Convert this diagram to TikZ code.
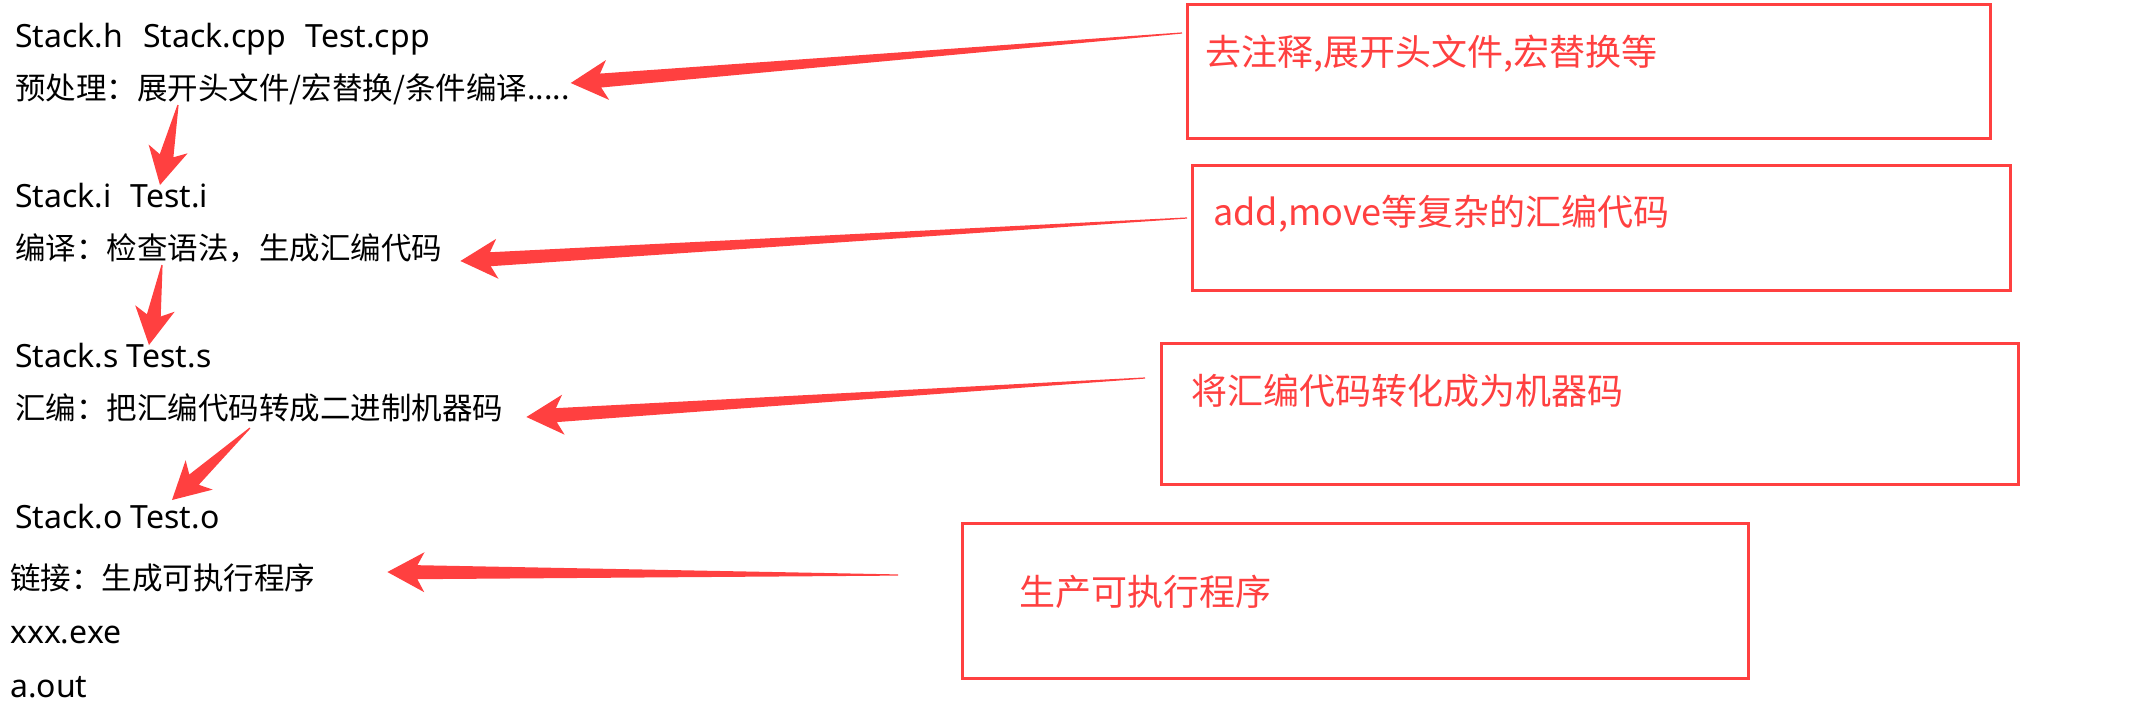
\documentclass[tikz,border=0pt]{standalone}
\usepackage{fontspec}
\setmainfont{Noto Sans CJK SC}
\newfontfamily\latinfont{Noto Sans}
\usetikzlibrary{calc}
\definecolor{markred}{RGB}{255,64,64}

% tapered red arrow: #1 tail, #2 tip
\newcommand{\redarrow}[2]{%
  \fill[markred] (#2)
    -- ($(#2)!37pt!(#1)!20pt!90:(#1)$)
    -- ($(#2)!30pt!(#1)!7pt!90:(#1)$)
    -- ($(#1)!0.6pt!-90:(#2)$)
    -- ($(#1)!0.6pt!90:(#2)$)
    -- ($(#2)!30pt!(#1)!7pt!-90:(#1)$)
    -- ($(#2)!37pt!(#1)!20pt!-90:(#1)$)
    -- cycle;}

\begin{document}
\begin{tikzpicture}[x=1pt, y=-1pt,
    line/.style = {anchor=base west, inner sep=0pt, font=\fontsize{30.5}{36}\selectfont},
    file/.style = {line, font=\fontsize{32}{38}\selectfont\latinfont},
    note/.style = {anchor=base west, inner sep=0pt, text=markred, font=\fontsize{36}{42}\selectfont},
    box/.style = {draw=markred, line width=2.5pt, anchor=north west, inner sep=0pt}
]
    \useasboundingbox (0,0) rectangle (2143,724);

    % left column
    \node[file] (l1) at (15, 47) {Stack.h\hspace{20pt}Stack.cpp\hspace{20pt}Test.cpp};
    \node[line] (l2) at (15, 99) {预处理：展开头文件/宏替换/条件编译.....};
    \node[file] (l3) at (15, 207) {Stack.i\hspace{19pt}Test.i};
    \node[line] (l4) at (15, 259) {编译：检查语法，生成汇编代码};
    \node[file] (l5) at (15, 367) {Stack.s Test.s};
    \node[line] (l6) at (15, 419) {汇编：把汇编代码转成二进制机器码};
    \node[file] (l7) at (15, 528) {Stack.o Test.o};
    \node[line] (l8) at (10, 589) {链接：生成可执行程序};
    \node[file] (l9) at (10, 643) {xxx.exe};
    \node[file] (l10) at (10, 697) {a.out};

    % boxes on the right
    \node[box, minimum width=803pt, minimum height=134pt] (box1) at (1186, 3) {};
    \node[box, minimum width=818pt, minimum height=125pt] (box2) at (1191, 164) {};
    \node[box, minimum width=857pt, minimum height=141pt] (box3) at (1160, 342) {};
    \node[box, minimum width=786pt, minimum height=155pt] (box4) at (961, 522) {};

    \node[note] (n1) at (1205, 65) {去注释,展开头文件,宏替换等};
    \node[note] (n2) at (1213, 225) {add,move等复杂的汇编代码};
    \node[note] (n3) at (1191, 404) {将汇编代码转化成为机器码};
    \node[note] (n4) at (1019, 605) {生产可执行程序};

    % arrow ends
    \coordinate (a1) at ($(box1.north west)+(-4, 30)$);
    \coordinate (a2) at ($(box2.north west)+(-4, 54)$);
    \coordinate (a3) at ($(box3.north west)+(-15, 36)$);
    \coordinate (a4) at ($(box4.north west)+(-63, 53)$);
    \coordinate (b1) at ($(l2.base east)+(1, -16)$);
    \coordinate (b2) at ($(l4.base east)+(18, 2)$);
    \coordinate (b3) at ($(l6.base east)+(23, -2)$);
    \coordinate (b4) at ($(l8.base east)+(72, -17)$);
    \coordinate (d1) at ($(l2.base west)+(163, 6)$);
    \coordinate (e1) at ($(l3.base west)+(145, -22)$);
    \coordinate (d2) at ($(l4.base west)+(147, 6)$);
    \coordinate (e2) at ($(l5.base west)+(134, -22)$);
    \coordinate (d3) at ($(l6.base west)+(235, 9)$);
    \coordinate (e3) at ($(l7.base west)+(157, -28)$);

    \redarrow{a1}{b1}
    \redarrow{a2}{b2}
    \redarrow{a3}{b3}
    \redarrow{a4}{b4}
    \redarrow{d1}{e1}
    \redarrow{d2}{e2}
    \redarrow{d3}{e3}
\end{tikzpicture}
\end{document}
